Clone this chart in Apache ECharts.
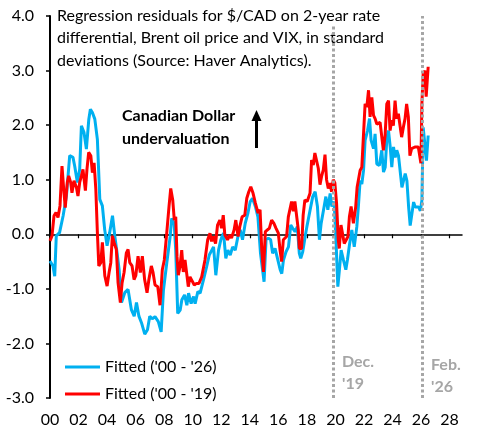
<!DOCTYPE html>
<html>
<head>
<meta charset="utf-8">
<script src="https://cdn.jsdelivr.net/npm/echarts@6/dist/echarts.min.js"></script>
<style>
  html, body { margin: 0; padding: 0; background: #fff; }
  #chart { width: 480px; height: 437px; }
</style>
</head>
<body>
<div id="chart"></div>
<script>
// fitted residuals, 2000-2026 sample (blue)
const datesLong = [
  2000.00, 2000.21, 2000.33, 2000.44, 2000.67, 2000.92, 2001.15, 2001.38, 2001.61, 2001.73,
  2001.92, 2002.08, 2002.20, 2002.38, 2002.55, 2002.72, 2002.83, 2002.97, 2003.14, 2003.32,
  2003.49, 2003.67, 2003.83, 2004.00, 2004.18, 2004.38, 2004.54, 2004.70, 2004.84, 2005.01,
  2005.24, 2005.47, 2005.70, 2005.90, 2006.06, 2006.23, 2006.41, 2006.64, 2006.83, 2006.99,
  2007.16, 2007.36, 2007.59, 2007.79, 2007.95, 2008.18, 2008.42, 2008.53, 2008.70, 2008.81,
  2008.95, 2009.12, 2009.24, 2009.43, 2009.59, 2009.71, 2009.89, 2010.06, 2010.17, 2010.36,
  2010.52, 2010.75, 2010.98, 2011.16, 2011.34, 2011.46, 2011.62, 2011.81, 2011.97, 2012.16,
  2012.32, 2012.46, 2012.63, 2012.80, 2012.98, 2013.17, 2013.33, 2013.49, 2013.68, 2013.87,
  2014.03, 2014.19, 2014.39, 2014.57, 2014.75, 2015.00, 2015.14, 2015.30, 2015.46, 2015.60,
  2015.77, 2015.94, 2016.13, 2016.24, 2016.36, 2016.54, 2016.71, 2016.87, 2017.01, 2017.17,
  2017.33, 2017.47, 2017.57, 2017.71, 2017.88, 2018.00, 2018.11, 2018.23, 2018.41, 2018.58,
  2018.74, 2018.88, 2019.00, 2019.17, 2019.33, 2019.47, 2019.63, 2019.75, 2019.91, 2020.05,
  2020.17, 2020.28, 2020.40, 2020.56, 2020.73, 2020.84, 2020.98, 2021.15, 2021.32, 2021.50,
  2021.62, 2021.73, 2021.85, 2021.97, 2022.08, 2022.25, 2022.39, 2022.50, 2022.67, 2022.78,
  2022.90, 2023.08, 2023.25, 2023.37, 2023.49, 2023.61, 2023.72, 2023.84, 2023.95, 2024.07,
  2024.19, 2024.30, 2024.42, 2024.54, 2024.66, 2024.77, 2024.89, 2025.01, 2025.13, 2025.24,
  2025.36, 2025.48, 2025.59, 2025.71, 2025.83, 2025.95, 2026.06, 2026.15, 2026.27, 2026.38,
  2026.50
];
const fittedLong = [
  -0.49, -0.58, -0.77, -0.03, 0.03, 0.34, 0.70, 1.44, 1.41, 1.25,
  0.95, 1.19, 1.99, 1.87, 1.56, 2.11, 2.29, 2.23, 2.11, 1.74,
  0.64, 0.52, 0.09, -0.21, 0.03, 0.34, -0.03, -0.34, -0.64, -1.25,
  -1.07, -1.01, -1.38, -1.50, -1.25, -1.50, -1.62, -1.83, -1.75, -1.50,
  -1.55, -1.51, -1.60, -1.79, -1.02, -0.53, -0.04, 0.29, 0.20, -0.29,
  -1.45, -1.39, -1.20, -1.11, -1.30, -1.08, -1.27, -1.14, -1.27, -1.05,
  -1.08, -0.84, -0.59, -0.38, -0.29, -0.23, -0.75, -0.29, -0.10, 0.02,
  -0.44, -0.29, -0.38, -0.23, -0.29, -0.04, 0.08, -0.10, 0.20, 0.39,
  0.60, 0.66, 0.51, 0.32, -0.35, -0.87, -0.10, -0.07, -0.10, -0.35,
  -0.26, -0.44, -0.65, -0.72, -0.47, -0.32, -0.23, 0.17, 0.11, 0.05,
  0.14, -0.35, -0.44, -0.32, -0.04, 0.14, 0.11, 0.45, 0.69, 0.78,
  0.51, -0.10, 0.20, 0.45, 0.69, 0.45, 0.75, 0.51, 0.60, -0.17,
  -0.96, -0.65, -0.29, -0.47, -0.65, -0.47, -0.20, 0.08, -0.23, 0.14,
  0.55, 0.98, 0.92, 1.17, 1.72, 1.90, 2.12, 1.72, 1.57, 1.84,
  1.29, 1.26, 1.54, 1.14, 1.23, 1.78, 1.90, 1.60, 1.23, 1.60,
  1.41, 1.54, 1.44, 1.41, 0.86, 0.98, 1.11, 0.98, 0.50, 0.16,
  0.19, 0.59, 0.50, 0.53, 0.50, 0.43, 0.62, 1.96, 1.99, 1.35,
  1.81
];

// fitted residuals, 2000-2019 sample (red)
const datesShort = [
  2000.00, 2000.14, 2000.28, 2000.42, 2000.56, 2000.70, 2000.84, 2000.98, 2001.07, 2001.21,
  2001.31, 2001.45, 2001.54, 2001.68, 2001.85, 2001.96, 2002.08, 2002.20, 2002.31, 2002.48,
  2002.59, 2002.71, 2002.86, 2002.97, 2003.09, 2003.21, 2003.32, 2003.42, 2003.56, 2003.67,
  2003.84, 2004.00, 2004.14, 2004.26, 2004.37, 2004.49, 2004.65, 2004.77, 2004.93, 2005.05,
  2005.19, 2005.35, 2005.47, 2005.59, 2005.75, 2005.89, 2006.01, 2006.17, 2006.33, 2006.47,
  2006.63, 2006.80, 2006.93, 2007.10, 2007.22, 2007.36, 2007.55, 2007.71, 2007.87, 2008.01,
  2008.18, 2008.34, 2008.46, 2008.60, 2008.71, 2008.81, 2008.90, 2008.99, 2009.11, 2009.23,
  2009.34, 2009.46, 2009.58, 2009.69, 2009.81, 2009.93, 2010.11, 2010.27, 2010.44, 2010.63,
  2010.86, 2011.05, 2011.21, 2011.32, 2011.44, 2011.60, 2011.74, 2011.90, 2012.02, 2012.14,
  2012.25, 2012.44, 2012.60, 2012.72, 2012.90, 2013.02, 2013.18, 2013.30, 2013.46, 2013.65,
  2013.79, 2013.93, 2014.07, 2014.23, 2014.39, 2014.58, 2014.72, 2014.84, 2014.96, 2015.09,
  2015.23, 2015.37, 2015.53, 2015.69, 2015.84, 2016.00, 2016.12, 2016.23, 2016.35, 2016.46,
  2016.58, 2016.70, 2016.81, 2016.93, 2017.05, 2017.16, 2017.28, 2017.40, 2017.47, 2017.63,
  2017.74, 2017.86, 2018.02, 2018.22, 2018.33, 2018.45, 2018.56, 2018.68, 2018.80, 2018.92,
  2019.03, 2019.15, 2019.27, 2019.38, 2019.50, 2019.62, 2019.73, 2019.85, 2019.96, 2020.08,
  2020.20, 2020.27, 2020.39, 2020.51, 2020.62, 2020.74, 2020.88, 2020.98, 2021.10, 2021.26,
  2021.42, 2021.52, 2021.62, 2021.73, 2021.85, 2021.97, 2022.08, 2022.20, 2022.32, 2022.43,
  2022.55, 2022.67, 2022.78, 2022.90, 2023.01, 2023.13, 2023.25, 2023.36, 2023.48, 2023.60,
  2023.72, 2023.83, 2023.95, 2024.06, 2024.18, 2024.29, 2024.41, 2024.53, 2024.64, 2024.76,
  2024.88, 2024.99, 2025.11, 2025.22, 2025.34, 2025.46, 2025.57, 2025.69, 2025.81, 2025.92,
  2025.99, 2026.06, 2026.15, 2026.27, 2026.36, 2026.50
];
const fittedShort = [
  -0.12, -0.03, 0.34, 0.40, 0.31, 0.52, 1.25, 0.76, 0.49, 0.95,
  1.07, 0.95, 0.76, 0.98, 0.86, 0.70, 0.95, 1.07, 1.19, 0.80,
  1.19, 1.50, 1.44, 1.13, 1.31, 0.83, 0.03, -0.58, -0.52, -0.15,
  -0.76, -0.95, -0.70, -0.52, -0.03, -0.15, -0.28, -0.89, -1.25, -0.89,
  -0.70, -0.34, -0.28, -0.52, -0.58, -0.83, -0.76, -0.40, -0.70, -0.40,
  -0.83, -1.07, -0.83, -0.58, -0.70, -0.93, -0.96, -1.30, -0.65, -0.47,
  0.02, 0.51, 0.84, 0.63, 0.26, 0.32, -0.41, -0.75, -0.59, -0.29,
  -0.69, -0.47, -0.72, -0.96, -0.78, -0.84, -0.93, -0.90, -0.90, -0.78,
  -0.47, -0.10, 0.02, -0.13, -0.04, -0.17, 0.17, 0.26, 0.11, 0.35,
  -0.01, -0.10, -0.01, -0.07, 0.08, 0.26, -0.04, 0.14, 0.32, 0.35,
  0.66, 0.78, 0.87, 0.75, 0.57, 0.39, 0.45, -0.29, -0.69, 0.05,
  0.08, 0.11, 0.26, 0.20, 0.11, 0.02, -0.29, -0.50, -0.10, -0.10,
  -0.04, 0.32, 0.29, 0.60, 0.42, 0.60, 0.60, 0.08, -0.26, -0.26,
  0.35, 0.63, 0.60, 0.75, 1.36, 1.27, 1.49, 1.52, 1.21, 0.91,
  1.06, 1.18, 1.46, 1.00, 0.84, 0.94, 0.78, 1.00, 0.94, 0.57,
  -0.10, -0.26, 0.17, 0.14, -0.17, -0.17, -0.04, 0.32, 0.51, 0.20,
  0.50, 0.86, 0.86, 1.17, 1.23, 1.23, 2.39, 2.33, 2.64, 2.15,
  2.51, 2.18, 2.12, 2.02, 2.05, 2.05, 2.02, 1.54, 1.81, 2.39,
  2.45, 1.90, 2.09, 1.99, 2.45, 2.12, 2.21, 2.21, 1.78, 1.96,
  2.12, 2.39, 2.15, 1.44, 1.57, 1.54, 1.60, 1.57, 1.60, 1.62,
  1.30, 2.39, 2.94, 3.00, 2.52, 3.07
];

const yearTicks = [2000, 2002, 2004, 2006, 2008, 2010, 2012, 2014, 2016, 2018, 2020, 2022, 2024, 2026, 2028];
const cutoffDates = [2019.87, 2026.1];   // Dec. '19 and Feb. '26
const seriesNames = ["Fitted ('00 - '26)", "Fitted ('00 - '19)"];

const FONT = 'Lato';

function zip(xs, ys) {
    return xs.map((x, i) => [x, ys[i]]);
}

const chart = echarts.init(document.getElementById('chart'));

const option = {
    animation: false,
    grid: { left: 50, right: 18, top: 16, bottom: 39 },
    legend: {
        orient: 'vertical',
        left: 60,
        top: 354,
        icon: 'rect',
        itemWidth: 35,
        itemHeight: 3,
        itemGap: 11,
        textStyle: { fontFamily: FONT, fontSize: 16, color: '#000' },
        data: seriesNames
    },
    xAxis: [
        {
            type: 'value',
            min: 2000,
            max: 2028.87,
            position: 'bottom',
            axisLine: { show: false, onZero: false },
            axisTick: { show: false },
            splitLine: { show: false },
            axisLabel: {
                customValues: yearTicks,
                margin: 14,
                fontFamily: FONT,
                fontSize: 16,
                color: '#000',
                formatter: v => String(Math.round(v) - 2000).padStart(2, '0')
            }
        },
        {
            // zero line with the little year ticks
            type: 'value',
            min: 2000,
            max: 2028.87,
            position: 'bottom',
            axisLine: { show: true, onZero: true, lineStyle: { color: '#000', width: 1.5 } },
            axisTick: { show: true, length: 4, customValues: yearTicks.slice(1), lineStyle: { color: '#000', width: 1.2 } },
            axisLabel: { show: false },
            splitLine: { show: false }
        }
    ],
    yAxis: {
        type: 'value',
        min: -3,
        max: 4,
        interval: 1,
        axisLine: { show: true, lineStyle: { color: '#000', width: 2 } },
        axisTick: { show: true, length: 4, lineStyle: { color: '#000', width: 1.5 } },
        splitLine: { show: false },
        axisLabel: {
            margin: 16,
            fontFamily: FONT,
            fontSize: 16,
            color: '#000',
            formatter: v => v.toFixed(1)
        }
    },
    series: [
        {
            name: seriesNames[0],
            type: 'line',
            symbol: 'none',
            color: '#00B0F0',
            lineStyle: { width: 3 },
            data: zip(datesLong, fittedLong),
            markLine: {
                silent: true,
                symbol: 'none',
                label: { show: false },
                lineStyle: { color: '#A6A6A6', width: 3, type: [3, 2.5] },
                data: [
                    [{ coord: [cutoffDates[0], -3] }, { coord: [cutoffDates[0], 3.83] }],
                    [{ coord: [cutoffDates[1], -3] }, { coord: [cutoffDates[1], 4] }]
                ]
            }
        },
        {
            name: seriesNames[1],
            type: 'line',
            symbol: 'none',
            color: '#FF0000',
            lineStyle: { width: 3 },
            data: zip(datesShort, fittedShort)
        }
    ],
    graphic: [
        { type: 'text', left: 57, top: 8, style: { text: 'Regression residuals for $/CAD on 2-year rate', font: '16px ' + FONT, fill: '#000' } },
        { type: 'text', left: 57, top: 30, style: { text: 'differential, Brent oil price and VIX, in standard', font: '16px ' + FONT, fill: '#000' } },
        { type: 'text', left: 57, top: 53, style: { text: 'deviations (Source: Haver Analytics).', font: '16px ' + FONT, fill: '#000' } },
        { type: 'text', left: 122, top: 108, style: { text: 'Canadian Dollar', font: 'bold 16px ' + FONT, fill: '#000' } },
        { type: 'text', left: 122, top: 131, style: { text: 'undervaluation', font: 'bold 16px ' + FONT, fill: '#000' } },
        { type: 'line', shape: { x1: 256.5, y1: 148, x2: 256.5, y2: 118 }, style: { stroke: '#000', lineWidth: 3 } },
        { type: 'polygon', shape: { points: [[256.5, 110], [251.5, 121], [261.5, 121]] }, style: { fill: '#000' } },
        { type: 'text', left: 342, top: 354, style: { text: 'Dec.', font: 'bold 16px ' + FONT, fill: '#A6A6A6' } },
        { type: 'text', left: 342, top: 376, style: { text: "'19", font: 'bold 16px ' + FONT, fill: '#A6A6A6' } },
        { type: 'text', left: 431, top: 357, style: { text: 'Feb.', font: 'bold 16px ' + FONT, fill: '#A6A6A6' } },
        { type: 'text', left: 431, top: 379, style: { text: "'26", font: 'bold 16px ' + FONT, fill: '#A6A6A6' } }
    ]
};

chart.setOption(option);
window.onresize = function () {
    chart.resize();
};
</script>
</body>
</html>
